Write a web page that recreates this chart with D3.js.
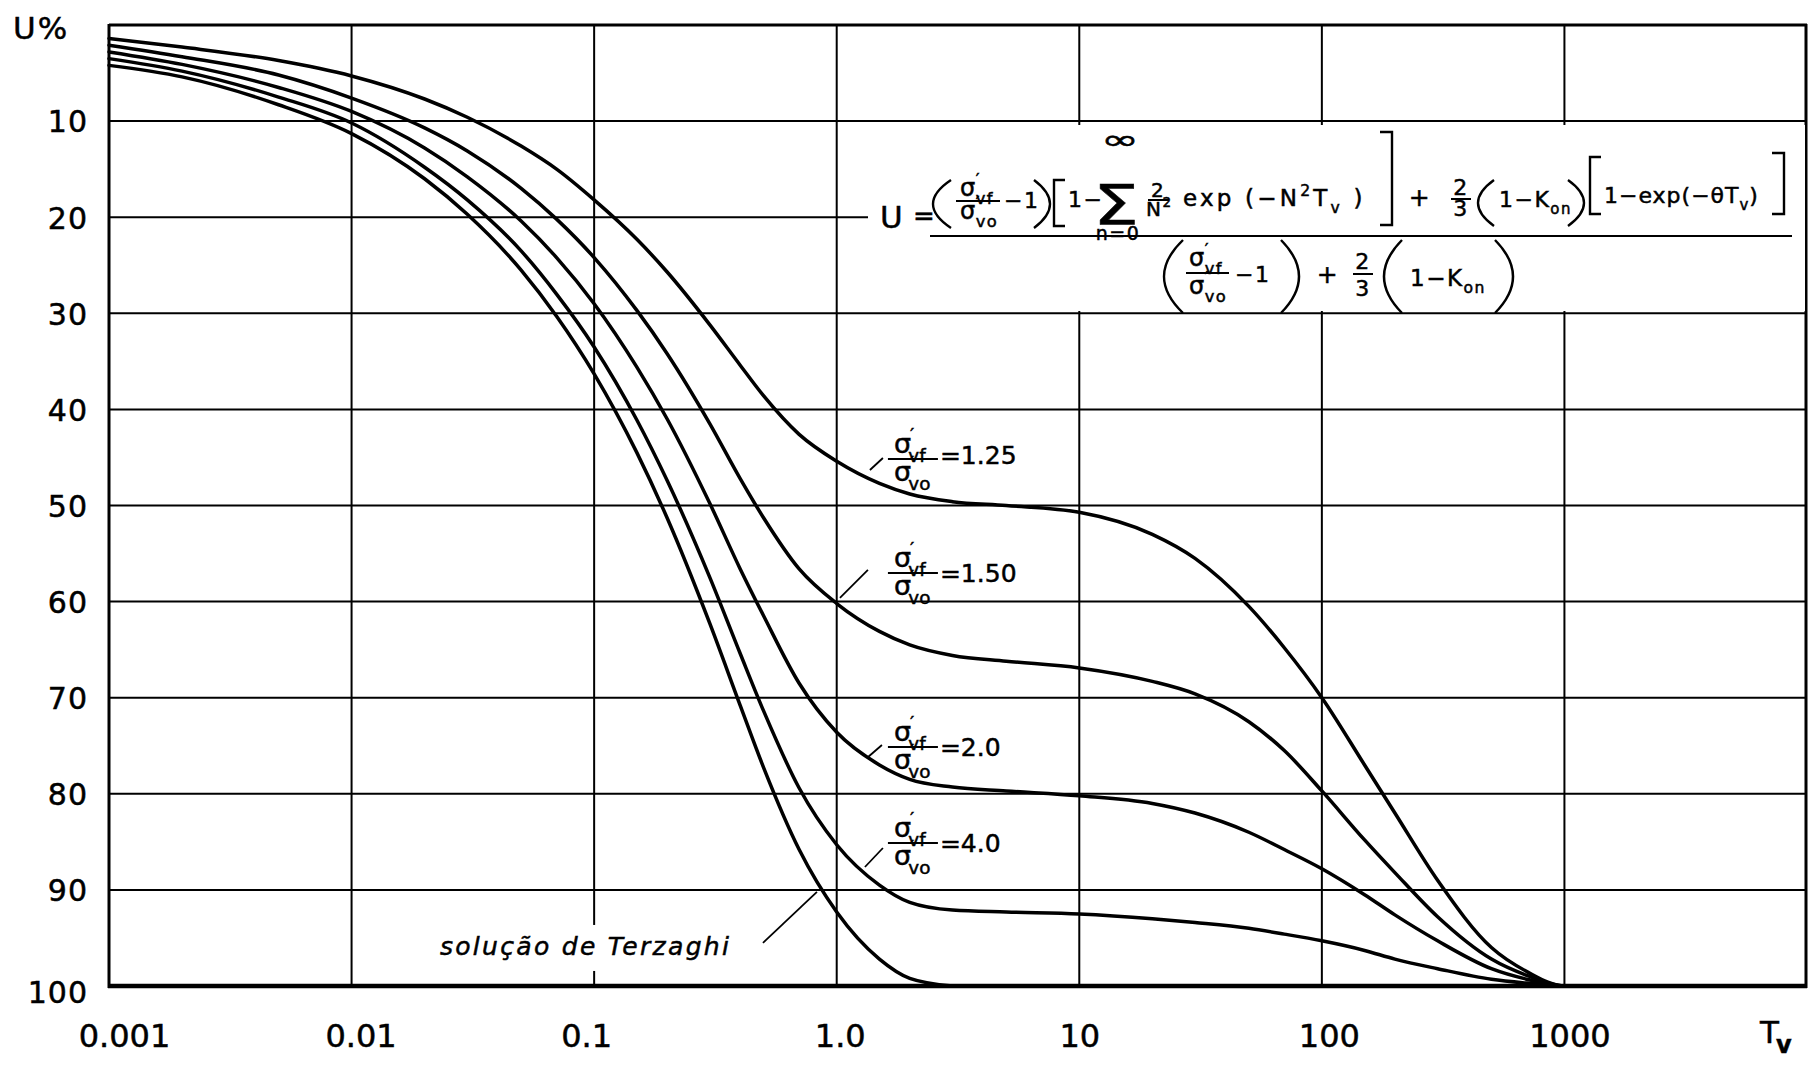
<!DOCTYPE html>
<html>
<head>
<meta charset="utf-8">
<script src="https://cdn.jsdelivr.net/npm/d3@7"></script>
<style>
  body { margin: 0; background: #fff; }
  svg { display: block; font-family: "DejaVu Sans", sans-serif; }
  .curve { fill: none; stroke: #000; stroke-width: 3.5; stroke-linejoin: round; stroke-linecap: round; }
  .grid line { stroke: #000; stroke-width: 2; }
  .ink { fill: none; stroke: #000; stroke-width: 2.4; }
  text { fill: #000; stroke: #000; stroke-width: 0.5; }
</style>
</head>
<body>
<svg id="chart" width="1809" height="1065"></svg>
<script>
// time factor Tv (shared sample points)
const tv = [0.001, 0.002, 0.005, 0.01, 0.02, 0.03, 0.05, 0.07, 0.1, 0.15, 0.2, 0.3, 0.4, 0.5, 0.7,
            1, 1.5, 2, 3, 5, 10, 20, 30, 50, 70, 100, 150, 200, 300, 500, 700, 1000, 1200];

// U% for each curve (null = curve already finished)
const uTerzaghi = [4.2, 5.4, 8.3, 11.3, 16.0, 19.7, 25.5, 30.3, 36.3, 44.5, 51.3, 62.3, 70.8, 77.3, 85.8,
                   92.3, 97.2, 99.2, 100, null, null, null, null, null, null, null, null, null, null, null, null, null, null];
const uRatio40 = [3.5, 4.8, 7.5, 10.2, 14.8, 18.2, 23.5, 28.0, 33.5, 41.1, 47.4, 57.5, 65.4, 71.4, 79.4,
                  85.3, 89.5, 91.3, 92.1, 92.3, 92.5, 93.0, 93.4, 94.0, 94.6, 95.3, 96.3, 97.2, 98.2, 99.3, 99.7, 100, 100];
const uRatio20 = [2.8, 4.1, 6.5, 9.0, 12.8, 15.8, 20.4, 24.2, 29.0, 35.6, 41.0, 49.8, 56.6, 61.5, 68.5,
                  73.6, 77.0, 78.5, 79.3, 79.7, 80.2, 81.0, 82.0, 84.0, 85.8, 87.8, 90.5, 92.6, 95.3, 98.2, 99.3, 100, 100];
const uRatio150 = [2.1, 3.3, 5.2, 7.6, 10.7, 13.1, 17.0, 20.2, 24.2, 29.7, 34.2, 41.5, 47.2, 51.3, 56.6,
                   60.2, 63.1, 64.5, 65.6, 66.2, 66.9, 68.3, 69.6, 72.5, 75.5, 79.7, 84.8, 88.2, 92.8, 97.2, 98.9, 100, 100];
const uRatio125 = [1.4, 2.3, 3.7, 5.3, 7.7, 9.6, 12.6, 15.0, 18.2, 22.3, 25.7, 31.2, 35.4, 38.6, 42.6,
                   45.4, 47.7, 48.8, 49.6, 50.0, 50.7, 53.0, 55.5, 60.5, 64.8, 70.0, 77.0, 82.0, 89.0, 96.0, 98.5, 100, 100];

const seriesValues = [uTerzaghi, uRatio40, uRatio20, uRatio150, uRatio125];
const ratioNames = ["4.0", "2.0", "1.50", "1.25"];

const yTicks = [10, 20, 30, 40, 50, 60, 70, 80, 90, 100];
const xTicks = [0.001, 0.01, 0.1, 1, 10, 100, 1000];
const xTickLabels = ["0.001", "0.01", "0.1", "1.0", "10", "100", "1000"];
const xLabelNudge = [15, 9, -8, 3, 0, 7, 5];

const svg = d3.select("#chart");
const x = d3.scaleLog().domain([0.001, 10000]).range([109, 1807]);
const y = d3.scaleLinear().domain([0, 100]).range([25, 986]);

// grid
const grid = svg.append("g").attr("class", "grid");
grid.selectAll("line.v").data(xTicks.slice(1)).join("line").attr("class", "v")
  .attr("x1", d => x(d)).attr("x2", d => x(d)).attr("y1", y(0)).attr("y2", y(100));
grid.selectAll("line.h").data(yTicks.slice(0, -1)).join("line").attr("class", "h")
  .attr("x1", x(0.001)).attr("x2", x(10000)).attr("y1", d => y(d)).attr("y2", d => y(d));

// frame
const frame = svg.append("g").attr("stroke", "#000");
frame.append("line").attr("x1", x(0.001)).attr("x2", x(10000)).attr("y1", y(0)).attr("y2", y(0)).attr("stroke-width", 2.8);
frame.append("line").attr("x1", x(0.001)).attr("x2", x(0.001)).attr("y1", y(0) - 1).attr("y2", y(100) + 2).attr("stroke-width", 3);
frame.append("line").attr("x1", x(10000) - 1).attr("x2", x(10000) - 1).attr("y1", y(0) - 1).attr("y2", y(100) + 2).attr("stroke-width", 3);
frame.append("line").attr("x1", x(0.001) - 1).attr("x2", x(10000)).attr("y1", y(100)).attr("y2", y(100)).attr("stroke-width", 4.5);

// white box behind the equation
svg.append("rect").attr("x", 868).attr("y", 125).attr("width", 937).attr("height", 186).attr("fill", "#fff");

// curves
const line = d3.line()
  .defined(d => d[1] != null)
  .x(d => x(d[0])).y(d => y(d[1]))
  .curve(d3.curveMonotoneX);
svg.append("g").selectAll("path").data(seriesValues).join("path")
  .attr("class", "curve")
  .attr("d", vals => line(tv.map((t, i) => [t, vals[i]])));

// axes
const yAxis = svg.append("g").attr("transform", `translate(${x(0.001)},0)`)
  .call(d3.axisLeft(y).tickValues(yTicks).tickSize(0).tickPadding(21).tickFormat(d3.format("d")));
yAxis.select(".domain").remove();
yAxis.selectAll("text").attr("font-size", 30).attr("font-family", "DejaVu Sans")
  .attr("letter-spacing", 1).attr("dy", (d, i) => i === yTicks.length - 1 ? "0.55em" : "0.36em");

const xAxis = svg.append("g").attr("transform", `translate(0,${y(100)})`)
  .call(d3.axisBottom(x).tickValues(xTicks).tickSize(0).tickPadding(38)
    .tickFormat((d, i) => xTickLabels[i]));
xAxis.select(".domain").remove();
xAxis.selectAll("text").attr("font-size", 32).attr("font-family", "DejaVu Sans")
  .attr("dx", (d, i) => xLabelNudge[i]);

svg.append("text").attr("x", 13).attr("y", 39).attr("font-size", 31).attr("letter-spacing", 2).text("U%");
const tvLab = svg.append("text").attr("x", 1760).attr("y", 1043).attr("font-size", 31);
tvLab.append("tspan").text("T");
tvLab.append("tspan").attr("dy", 10).attr("dx", -3).attr("font-size", 24).attr("font-weight", "bold").text("v");

// ---- equation helpers
function rich(g, x0, y0, size, parts, anchor) {
  const t = g.append("text").attr("x", x0).attr("y", y0)
    .attr("font-size", size).attr("text-anchor", anchor || "start");
  let shift = 0;
  parts.forEach(p => {
    if (typeof p === "string") p = { s: p };
    const k = p.k || "n";
    const target = k === "sub" ? size * 0.32 : k === "sup" ? -size * 0.45 : 0;
    const ts = t.append("tspan").attr("dy", target - shift)
      .attr("font-size", k === "n" ? size : size * 0.68).text(p.s);
    if (p.dx) ts.attr("dx", p.dx);
    shift = target;
  });
  return t;
}
function paren(g, xOut, xIn, y0, y1) {
  const cx = 2 * xOut - xIn;
  g.append("path").attr("class", "ink").attr("d", `M${xIn},${y0} Q${cx},${(y0 + y1) / 2} ${xIn},${y1}`);
}
function bracket(g, xOut, xIn, y0, y1) {
  g.append("path").attr("class", "ink").attr("d", `M${xIn},${y0} H${xOut} V${y1} H${xIn}`);
}
function bar(g, x0, x1, yy) {
  g.append("line").attr("x1", x0).attr("x2", x1).attr("y1", yy).attr("y2", yy)
    .attr("stroke", "#000").attr("stroke-width", 2);
}
function sigma(g, x0, y0, size, sub) {
  rich(g, x0, y0, size, [{ s: "σ" }, { s: "′", k: "sup", dx: -1 }, { s: sub, k: "sub", dx: -size * 0.22 }]);
}
function ratio(g, x0, yBar, size) {
  bar(g, x0, x0 + 50, yBar);
  sigma(g, x0 + 6, yBar - 6, size, "vf");
  sigma(g, x0 + 6, yBar + 22, size, "vo");
}

// ---- equation
const eq = svg.append("g").attr("letter-spacing", 1.5);
rich(eq, 880, 228, 31, ["U"]);
rich(eq, 913, 225, 26, ["="]);
bar(eq, 930, 1792, 236);
// numerator
paren(eq, 933, 951, 180, 228);
bar(eq, 956, 1000, 201);
sigma(eq, 960, 196, 24, "vf");
sigma(eq, 960, 219, 24, "vo");
rich(eq, 1004, 208, 22, ["−1"]);
paren(eq, 1050, 1034, 180, 228);
bracket(eq, 1054, 1065, 180, 226);
rich(eq, 1068, 207, 22, ["1−"]);
eq.append("text").attr("x", 1116).attr("y", 224).attr("font-size", 56).attr("text-anchor", "middle")
  .attr("textLength", 46).attr("lengthAdjust", "spacingAndGlyphs").attr("letter-spacing", 0).text("Σ");
eq.append("text").attr("x", 1120).attr("y", 149).attr("font-size", 27).attr("text-anchor", "middle")
  .attr("textLength", 38).attr("lengthAdjust", "spacingAndGlyphs").attr("letter-spacing", 0).text("∞");
rich(eq, 1118, 240, 19, ["n=0"], "middle");
rich(eq, 1158, 197, 20, ["2"], "middle");
bar(eq, 1148, 1169, 200);
rich(eq, 1146, 216, 20, ["N", { s: "2", k: "sup" }]);
rich(eq, 1183, 206, 23, ["exp (−N", { s: "2", k: "sup" }, "T", { s: "v", k: "sub" }, " )"])
  .attr("letter-spacing", 3.2);
bracket(eq, 1392, 1380, 132, 225);
rich(eq, 1420, 206, 25, ["+"], "middle");
rich(eq, 1461, 195, 22, ["2"], "middle");
bar(eq, 1451, 1471, 199);
rich(eq, 1461, 216, 22, ["3"], "middle");
paren(eq, 1478, 1494, 180, 226);
rich(eq, 1499, 207, 22, ["1−K", { s: "on", k: "sub" }]);
paren(eq, 1584, 1568, 180, 226);
bracket(eq, 1590, 1601, 157, 214);
rich(eq, 1604, 203, 22, ["1−exp(−θT", { s: "v", k: "sub" }, ")"]).attr("letter-spacing", 1);
bracket(eq, 1784, 1772, 153, 214);
// denominator
paren(eq, 1164, 1183, 240, 313);
bar(eq, 1186, 1229, 273);
sigma(eq, 1189, 266, 24, "vf");
sigma(eq, 1189, 294, 24, "vo");
rich(eq, 1235, 282, 22, ["−1"]);
paren(eq, 1299, 1281, 240, 313);
rich(eq, 1328, 283, 25, ["+"], "middle");
rich(eq, 1363, 269, 22, ["2"], "middle");
bar(eq, 1353, 1373, 274);
rich(eq, 1363, 296, 22, ["3"], "middle");
paren(eq, 1384, 1402, 240, 313);
rich(eq, 1410, 286, 23, ["1−K", { s: "on", k: "sub" }]);
paren(eq, 1513, 1495, 240, 313);

// ---- curve labels (anchored in data space: left end of the fraction bar)
const labelSpots = [
  { tv: 1.626, u: 85.12, lead: [[-23, 24], [-5, 5]], dyText: 9 },
  { tv: 1.626, u: 75.13, lead: [[-21, 11], [-6, -2]], dyText: 9 },
  { tv: 1.626, u: 57.02, lead: [[-48, 25], [-20, -3]], dyText: 9 },
  { tv: 1.626, u: 45.16, lead: [[-18, 11], [-5, -1]], dyText: 5 }
];
const labs = svg.append("g");
labelSpots.forEach((s, i) => {
  const lx = x(s.tv), ly = y(s.u);
  ratio(labs, lx, ly, 27);
  rich(labs, lx + 52, ly + s.dyText, 25, ["=" + ratioNames[i]]);
  labs.append("line").attr("x1", lx + s.lead[0][0]).attr("y1", ly + s.lead[0][1])
    .attr("x2", lx + s.lead[1][0]).attr("y2", ly + s.lead[1][1])
    .attr("stroke", "#000").attr("stroke-width", 1.8);
});

// Terzaghi label
const tz = { tv: 0.02314, u: 96.77 };
const tzx = x(tz.tv), tzy = y(tz.u);
labs.append("rect").attr("x", tzx - 6).attr("y", tzy - 30).attr("width", 305).attr("height", 46).attr("fill", "#fff");
labs.append("text").attr("x", tzx).attr("y", tzy).attr("font-size", 25).attr("font-style", "italic")
  .attr("letter-spacing", 2.3).text("solução de Terzaghi");
labs.append("line").attr("x1", tzx + 323).attr("y1", tzy - 12).attr("x2", tzx + 377).attr("y2", tzy - 63)
  .attr("stroke", "#000").attr("stroke-width", 1.8);
</script>
</body>
</html>
